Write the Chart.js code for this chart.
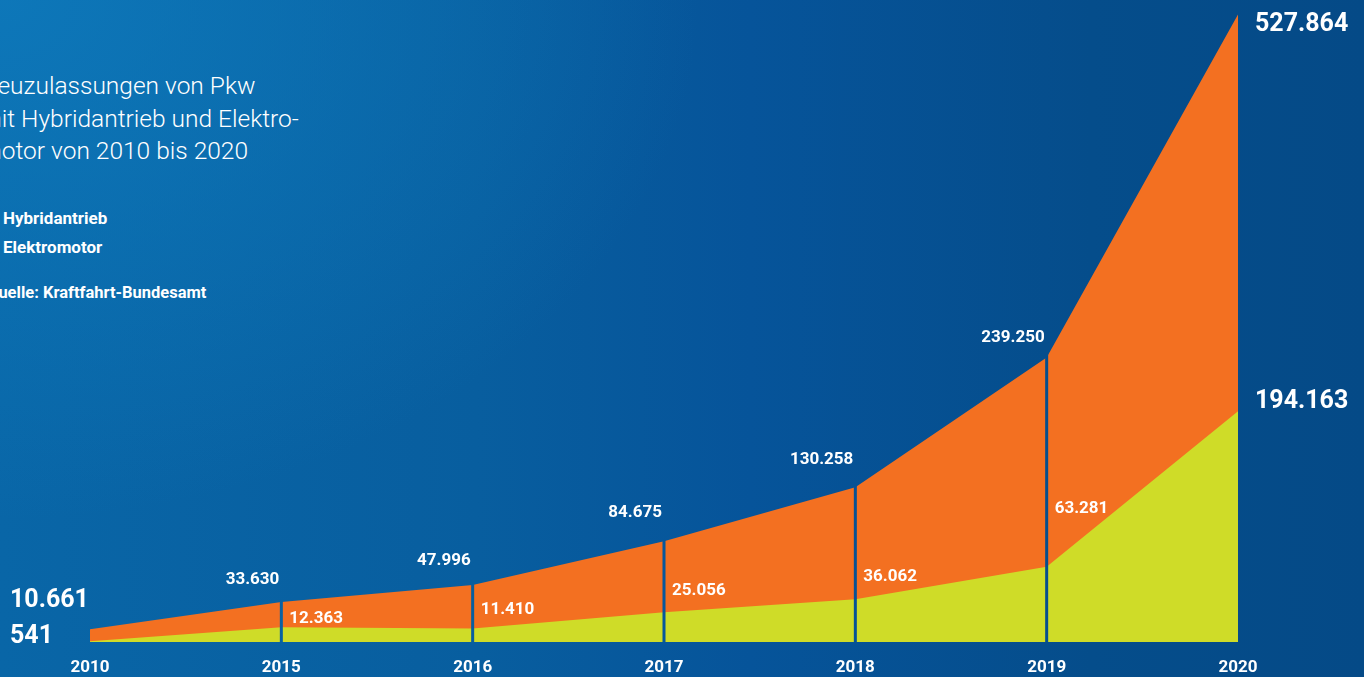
<!DOCTYPE html>
<html lang="de">
<head>
<meta charset="utf-8">
<title>Neuzulassungen von Pkw mit Hybridantrieb und Elektromotor</title>
<script src="https://cdn.jsdelivr.net/npm/chart.js@4/dist/chart.umd.min.js"></script>
<style>
  html, body { margin: 0; padding: 0; }
  body {
    width: 1364px; height: 677px; overflow: hidden; position: relative;
    font-family: Roboto, "Noto Sans", sans-serif; color: #fff;
    background:
      radial-gradient(ellipse 700px 520px at 0% 0%, rgba(14,122,188,0.85) 0%, rgba(14,122,188,0) 100%),
      linear-gradient(to right, #0966a7 0%, #085e9f 35%, #06549a 55%, #054d8b 80%, #054a87 100%);
  }
  #wrap { position: absolute; left: 0; top: 0; width: 1364px; height: 677px; }
  .title {
    position: absolute; left: -20px; top: 70px; font-size: 24.5px; font-weight: 300;
    line-height: 32.5px; white-space: nowrap;
  }
  .legend { position: absolute; left: 3px; font-size: 17px; font-weight: 700; white-space: nowrap; }
  .legend i { position: absolute; left: -20px; top: 3px; width: 12px; height: 12px; }
  .source { position: absolute; left: -13px; top: 283px; font-size: 16.5px; font-weight: 700; white-space: nowrap; }
</style>
</head>
<body>
<div class="title">Neuzulassungen von Pkw<br>mit Hybridantrieb und Elektro-<br>motor von 2010 bis 2020</div>
<div class="legend" style="top:208px"><i style="background:#f37021"></i>Hybridantrieb</div>
<div class="legend" style="top:237px"><i style="background:#cfdc28"></i>Elektromotor</div>
<div class="source">Quelle: Kraftfahrt-Bundesamt</div>
<div id="wrap"><canvas id="chart" width="1364" height="677"></canvas></div>
<script>
// Jahre und Neuzulassungen (Pkw)
const years = ['2010', '2015', '2016', '2017', '2018', '2019', '2020'];
const hybrid = [10661, 33630, 47996, 84675, 130258, 239250, 527864];
const elektro = [541, 12363, 11410, 25056, 36062, 63281, 194163];

const ORANGE = '#f37021';
const GREEN = '#cfdc28';

function fmt(v) {
  return String(v).replace(/\B(?=(\d{3})+(?!\d))/g, '.');
}

// Trennlinien zwischen den Jahren: aus der Fläche ausgeschnitten,
// damit der Hintergrundverlauf durchscheint.
const separators = {
  id: 'separators',
  afterDatasetsDraw(chart) {
    const { ctx, chartArea } = chart;
    const xs = chart.scales.x, ys = chart.scales.y;
    ctx.save();
    ctx.globalCompositeOperation = 'destination-out';
    for (let i = 1; i < years.length - 1; i++) {
      const x = xs.getPixelForValue(i);
      const top = ys.getPixelForValue(hybrid[i]) - 8;
      ctx.fillRect(x - 1.5, top, 3, chartArea.bottom - top + 1);
    }
    ctx.restore();
  }
};

// Wertebeschriftungen und Jahreszahlen
const valueLabels = {
  id: 'valueLabels',
  afterDatasetsDraw(chart) {
    const { ctx, chartArea } = chart;
    const xs = chart.scales.x, ys = chart.scales.y;
    const last = years.length - 1;
    const greenLift = [0, 9, 19, 21, 22, 58, 0];
    const orangeLift = [0, 22, 24, 29, 27, 20, 0];
    ctx.save();
    ctx.fillStyle = '#ffffff';
    ctx.textBaseline = 'middle';

    // Startwerte links
    ctx.font = '700 25px Roboto';
    ctx.textAlign = 'left';
    ctx.fillText(fmt(hybrid[0]), 10, 601);
    ctx.fillText(fmt(elektro[0]), 10, 637);

    // Endwerte rechts
    const xe = xs.getPixelForValue(last) + 17;
    ctx.fillText(fmt(hybrid[last]), xe, ys.getPixelForValue(hybrid[last]) + 10);
    ctx.fillText(fmt(elektro[last]), xe, ys.getPixelForValue(elektro[last]) - 9);

    // Zwischenjahre
    ctx.font = '700 17px Roboto';
    for (let i = 1; i < last; i++) {
      const x = xs.getPixelForValue(i);
      ctx.textAlign = 'right';
      ctx.fillText(fmt(hybrid[i]), x - 2, ys.getPixelForValue(hybrid[i]) - orangeLift[i]);
      ctx.textAlign = 'left';
      ctx.fillText(fmt(elektro[i]), x + 8, ys.getPixelForValue(elektro[i]) - greenLift[i]);
    }

    // Jahreszahlen
    ctx.textAlign = 'center';
    for (let i = 0; i <= last; i++) {
      ctx.fillText(years[i], xs.getPixelForValue(i), chartArea.bottom + 26);
    }
    ctx.restore();
  }
};

function build() {
  new Chart(document.getElementById('chart'), {
    type: 'line',
    data: {
      labels: years,
      datasets: [
        {
          label: 'Elektromotor',
          data: elektro,
          backgroundColor: GREEN,
          borderWidth: 0,
          pointRadius: 0,
          fill: 'origin',
          tension: 0,
          order: 0
        },
        {
          label: 'Hybridantrieb',
          data: hybrid,
          backgroundColor: ORANGE,
          borderWidth: 0,
          pointRadius: 0,
          fill: 'origin',
          tension: 0,
          order: 1
        }
      ]
    },
    options: {
      responsive: false,
      animation: false,
      layout: { padding: { left: 90, right: 126, top: 12, bottom: 35 } },
      plugins: { legend: { display: false }, tooltip: { enabled: false } },
      scales: {
        x: { type: 'category', display: false, offset: false },
        y: { display: false, min: 0, max: 530000 }
      }
    },
    plugins: [separators, valueLabels]
  });
}

Promise.all([
  document.fonts.load('700 25px Roboto'),
  document.fonts.load('700 17px Roboto')
]).then(build, build);
</script>
</body>
</html>
